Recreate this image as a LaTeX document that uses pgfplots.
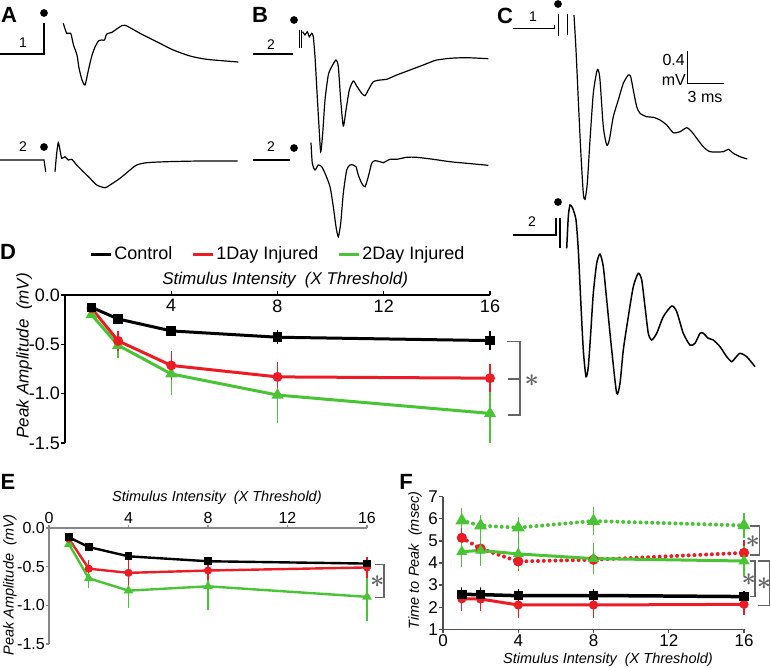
\documentclass[border=0pt]{standalone}
\usepackage{fontspec}
\setmainfont{Liberation Sans}
\setsansfont{Liberation Sans}
\usepackage{pgfplots}
\pgfplotsset{compat=1.18}
\definecolor{cred}{RGB}{237,28,36}
\definecolor{cgreen}{RGB}{72,196,52}
\definecolor{cgray}{RGB}{100,100,100}
\definecolor{axgray}{RGB}{135,135,135}
\definecolor{fgray}{RGB}{80,80,80}
\newcommand\fs[1]{\fontsize{#1}{#1}\selectfont}
\begin{document}
\begin{tikzpicture}[x=1pt,y=1pt]
\path[use as bounding box] (0pt,0pt) rectangle (771pt,-668pt);
% ---------------- traces and annotations (pixel coordinates)
\begin{axis}[at={(0pt,0pt)}, anchor=north west, scale only axis, width=771pt, height=668pt,
  xmin=0,xmax=771,ymin=0,ymax=668, y dir=reverse, hide axis, clip=false]
% A
\addplot[black, line width=1.2pt] coordinates {(0,54) (44,54) (44,23)};
\addplot[black, line width=1.2pt, smooth, tension=0.4] coordinates {(63.3,23.3) (66.7,33.3) (70.7,33.3) (73.5,45) (77,55) (79,68) (82,80) (85,85) (88,72) (91.5,57) (95,47) (98.5,41) (101.7,40) (104.5,40) (106.7,34) (111.7,32.5) (116.7,29) (122,25.5) (125,25.3) (128.3,26.7) (140,33.3) (156.7,41.7) (173.3,50) (190,56) (206.7,59.3) (238.3,62)};
\addplot[black, line width=1.2pt] coordinates {(0,160) (44,160) (45.7,171.7)};
\addplot[black, line width=1.2pt, smooth, tension=0.4] coordinates {(55,171.7) (56.7,153.3) (58.3,142.7) (60,150) (61.7,158.3) (65,156.7) (68.3,160) (71.7,159.3) (76.7,165) (83.3,171.7) (90,178.3) (96.7,185) (105,187.7) (110,185) (120,178.3) (130,170) (136.7,165) (146.7,162.7) (166.7,161.7) (200,161) (237.7,161)};
% B
\addplot[black, line width=1.2pt] coordinates {(253,54) (293,54)};
\addplot[black, line width=1.1pt] coordinates {(299.3,30) (299.3,48)};
\addplot[black, line width=1.1pt] coordinates {(301.7,30) (301.7,48)};
\addplot[black, line width=1.2pt, smooth, tension=0.4] coordinates {(302.7,31.7) (305,35) (307.3,31.7) (309.3,36.7) (311.7,33.3) (313.3,36.7) (315,56.7) (316.7,86.7) (319,126.7) (320.7,151.7) (322.7,133.3) (325,100) (328.3,75) (331.7,66.7) (336,60) (338.3,66.7) (340.7,100) (343.3,126) (346,110) (349.3,90) (353.3,81) (356.7,86) (361.7,93.3) (365,95.7) (368.3,90) (373.3,81.7) (380,80) (386.7,79.3) (396.7,75) (410,70) (423.3,65) (433.3,61) (436.7,60) (450,58.3) (466.7,57.7) (488.3,58.7)};
\addplot[black, line width=1.2pt] coordinates {(252.7,160) (290,160)};
\addplot[black, line width=1.2pt, smooth, tension=0.4] coordinates {(311,142.7) (312.3,163.3) (315,170) (318.3,165) (321.7,166.7) (325,173.3) (330,186.7) (333.3,206.7) (336,226.7) (338.3,236.7) (340.7,223.3) (343.3,193.3) (346.7,170) (350,165) (353.3,165) (356,166.7) (358.3,175) (361.7,183.3) (365,186.7) (368.3,176.7) (371.7,163.3) (375,160.7) (380,161.7) (383.3,162.7) (390,159.3) (396.7,159.3) (406.7,157.3) (416.7,157.3) (433.3,159.3) (450,161.7) (466.7,163.3) (488.3,165.3)};
% C
\addplot[black, line width=1.2pt] coordinates {(513.3,28.3) (554.3,28.3) (554.3,25)};
\addplot[black, line width=1.1pt] coordinates {(558.3,14) (558.3,36)};
\addplot[black, line width=1.1pt] coordinates {(567.7,14) (567.7,35)};
\addplot[black, line width=1.2pt, smooth, tension=0.4] coordinates {(574,15) (576,50) (578.3,100) (580.7,150) (583.3,193.3) (585,199.3) (587.3,183.3) (590,140) (593.3,93.3) (596.7,71.7) (598.3,70) (600,80) (603.3,126.7) (606.7,145) (609.3,140) (613.3,116.7) (618.3,100) (623.3,83.3) (628.3,75) (630.7,76.7) (633.3,90) (636.7,106.7) (640,113.3) (646.7,116.7) (653.3,117.3) (660,120) (666.7,125) (673.3,132.7) (680,131.7) (686.7,127.7) (691.7,131.7) (696.7,138.3) (703.3,146.7) (710,151.7) (723.3,151.7) (728.3,149.3) (733.3,153.3) (740,156.7) (747.3,159)};
\addplot[black, line width=2pt] coordinates {(513.3,235) (556,235) (556,218)};
\addplot[black, line width=1.1pt] coordinates {(560,218) (560,248)};
\addplot[black, line width=1.5pt, smooth, tension=0.4] coordinates {(566.7,248.3) (568.3,216.7) (570,205) (572.7,208.3) (576,220) (578.3,250) (580.7,300) (583.3,350) (586,376.7) (588.3,366.7) (590.7,333.3) (593.3,293.3) (596.7,263.3) (600,254) (603.3,266.7) (606.7,300) (611.7,350) (616.7,393.3) (620,383.3) (623.3,350) (628.3,316.7) (633.3,286.7) (638.3,273.3) (641.7,280) (645,306.7) (648.3,333.3) (651.7,340) (656.7,333.3) (663.3,316.7) (671.7,306) (676.7,311.7) (683.3,333.3) (690,345) (695,343.3) (700,333.3) (703.3,333.3) (708.3,338.3) (713.3,340) (720,346.7) (726.7,356.7) (731.7,361.7) (735,358.3) (740,353.3) (746.7,356.7) (755,366.7)};
% scale bar
\addplot[black, line width=1.2pt] coordinates {(687.3,50.7) (687.3,83.3) (724,83.3)};
% stimulus dots
\addplot[only marks, mark=*, mark size=3.6pt, black] coordinates {(44,13) (44,147) (294,20) (294,148) (558,4) (558,202)};
% labels
\node[font=\bfseries\fs{22}] at (axis cs:9,15) {A};
\node[font=\bfseries\fs{22}] at (axis cs:260,15) {B};
\node[font=\bfseries\fs{22}] at (axis cs:505,16) {C};
\node[font=\bfseries\fs{22}] at (axis cs:8,252) {D};
\node[font=\bfseries\fs{22}] at (axis cs:8,482) {E};
\node[font=\bfseries\fs{22}] at (axis cs:406,482) {F};
\node[font=\fs{14}] at (axis cs:23,43) {1};
\node[font=\fs{14}] at (axis cs:23,147) {2};
\node[font=\fs{14}] at (axis cs:271,45) {2};
\node[font=\fs{14}] at (axis cs:271,147) {2};
\node[font=\fs{14}] at (axis cs:533,17) {1};
\node[font=\fs{14}] at (axis cs:532,222) {2};
\node[font=\fs{16}, anchor=east, inner sep=0pt] at (axis cs:685,60) {0.4};
\node[font=\fs{16}, anchor=east, inner sep=0pt] at (axis cs:686,80) {mV};
\node[font=\fs{16}] at (axis cs:705,97) {3 ms};
% brackets
\draw[cgray, line width=1.2pt] (axis cs:506.7,341.7) -- (axis cs:520,341.7) -- (axis cs:520,415) -- (axis cs:507.7,415);
\draw[cgray, line width=1.2pt] (axis cs:508,379) -- (axis cs:520,379);
\node[cgray, font=\fs{28}\boldmath] at (axis cs:531.7,381) {$\ast$};
\draw[cgray, line width=1.2pt] (axis cs:375,564.3) -- (axis cs:384,564.3) -- (axis cs:384,597.7) -- (axis cs:375,597.7);
\node[cgray, font=\fs{28}\boldmath] at (axis cs:377.3,581.7) {$\ast$};
\draw[cgray, line width=1.2pt] (axis cs:750,526) -- (axis cs:759.3,526) -- (axis cs:759.3,555) -- (axis cs:750,555);
\node[cgray, font=\fs{28}\boldmath] at (axis cs:752.7,541.7) {$\ast$};
\draw[cgray, line width=1.2pt] (axis cs:750,561) -- (axis cs:755,561) -- (axis cs:755,596.7) -- (axis cs:750,596.7);
\node[cgray, font=\fs{28}\boldmath] at (axis cs:748.7,579.3) {$\ast$};
\draw[cgray, line width=1.2pt] (axis cs:758.3,561) -- (axis cs:769.3,561) -- (axis cs:769.3,605.7) -- (axis cs:758.3,605.7);
\node[cgray, font=\fs{28}\boldmath] at (axis cs:764,583.3) {$\ast$};
\end{axis}
% ---------------- D
\begin{axis}[at={(65pt,-443pt)}, anchor=south west, scale only axis, width=425pt, height=148pt,
  xmin=0,xmax=16,ymin=-1.5,ymax=0, clip=false,
  axis x line*=top, axis y line*=left,
  axis line style={-,black,line width=1.5pt},
  every tick/.style={black,line width=1.3pt}, tick align=outside, major tick length=4pt,
  xtick={4,8,12,16}, xticklabels={4,8,12,16},
  ytick={0,-0.5,-1,-1.5}, yticklabels={0.0,-0.5,-1.0,-1.5},
  xticklabel style={font=\fs{18}, anchor=north, yshift=-5pt},
  yticklabel style={font=\fs{18}, inner sep=1pt},
  xlabel={Stimulus Intensity\ \ (X Threshold)},
  xlabel style={font=\itshape\fs{17}, at={(axis description cs:0.518,1.101)}, anchor=center},
  ylabel={Peak Amplitude\ \ (mV)},
  ylabel style={font=\itshape\fs{17}, at={(axis description cs:-0.096,0.59)}, anchor=center},
  legend columns=3,
  legend style={draw=none, fill=none, font=\fs{18}, at={(axis description cs:0.501,1.277)}, anchor=center, inner sep=0pt, /tikz/every even column/.append style={column sep=17pt}},
  legend image code/.code={\draw[#1, line width=3pt] (0pt,0pt) -- (20pt,0pt);},
  error bars/error mark=none,
  every axis plot/.append style={line width=3pt}]
\addlegendimage{black}\addlegendentry{Control}
\addlegendimage{cred}\addlegendentry{1Day Injured}
\addlegendimage{cgreen}\addlegendentry{2Day Injured}
\addplot[forget plot, cgreen, mark=triangle*, mark size=4pt, error bars/.cd, y dir=both, y explicit, error bar style={line width=1.3pt}] coordinates {(1,-0.2) +- (0,0.03) (2,-0.51) +- (0,0.13) (4,-0.8) +- (0,0.21) (8,-1.014) +- (0,0.28) (16,-1.2) +- (0,0.3)};
\addplot[forget plot, cred, mark=*, mark size=3.4pt, error bars/.cd, y dir=both, y explicit, error bar style={line width=1.3pt}] coordinates {(1,-0.135) +- (0,0.03) (2,-0.465) +- (0,0.1) (4,-0.714) +- (0,0.15) (8,-0.83) +- (0,0.15) (16,-0.843) +- (0,0.14)};
\addplot[forget plot, black, mark=square*, mark size=3.3pt, error bars/.cd, y dir=both, y explicit, error bar style={line width=1.5pt}] coordinates {(1,-0.125) +- (0,0.02) (2,-0.243) +- (0,0.035) (4,-0.364) +- (0,0.045) (8,-0.428) +- (0,0.07) (16,-0.462) +- (0,0.1)};
\end{axis}
% ---------------- E
\begin{axis}[at={(49pt,-644pt)}, anchor=south west, scale only axis, width=318pt, height=116pt,
  xmin=0,xmax=16,ymin=-1.5,ymax=0, clip=false,
  axis x line*=top, axis y line*=left,
  axis line style={-,axgray,line width=1.3pt},
  every tick/.style={axgray,line width=1.2pt}, tick align=outside, major tick length=3pt,
  xtick={0,4,8,12,16}, xticklabels={0,4,8,12,16},
  ytick={0,-0.5,-1,-1.5}, yticklabels={0.0,-0.5,-1.0,-1.5},
  xticklabel style={font=\fs{16}, inner sep=1pt},
  yticklabel style={font=\fs{16}, inner sep=1pt},
  xlabel={Stimulus Intensity\ \ (X Threshold)},
  xlabel style={font=\itshape\fs{14.5}, at={(axis description cs:0.528,1.259)}, anchor=center},
  ylabel={Peak Amplitude\ \ (mV)},
  ylabel style={font=\itshape\fs{14.5}, at={(axis description cs:-0.123,0.51)}, anchor=center},
  error bars/error mark=none,
  every axis plot/.append style={line width=2.4pt}]
\addplot[cgreen, mark=triangle*, mark size=3.2pt, error bars/.cd, y dir=both, y explicit, error bar style={line width=1.1pt}] coordinates {(1,-0.207) +- (0,0.04) (2,-0.65) +- (0,0.12) (4,-0.81) +- (0,0.23) (8,-0.754) +- (0,0.3) (16,-0.89) +- (0,0.31)};
\addplot[cred, mark=*, mark size=2.8pt, error bars/.cd, y dir=both, y explicit, error bar style={line width=1.1pt}] coordinates {(1,-0.138) +- (0,0.03) (2,-0.526) +- (0,0.11) (4,-0.58) +- (0,0.17) (8,-0.55) +- (0,0.12) (16,-0.51) +- (0,0.14)};
\addplot[black, mark=square*, mark size=2.7pt, error bars/.cd, y dir=both, y explicit, error bar style={line width=1.1pt}] coordinates {(1,-0.12) +- (0,0.03) (2,-0.246) +- (0,0.04) (4,-0.366) +- (0,0.05) (8,-0.43) +- (0,0.05) (16,-0.46) +- (0,0.05)};
\end{axis}
% ---------------- F
\begin{axis}[at={(443pt,-629.3pt)}, anchor=south west, scale only axis, width=301pt, height=132.6pt,
  xmin=0,xmax=16,ymin=1,ymax=7, clip=false,
  axis x line*=bottom, axis y line*=left,
  axis line style={-,fgray,line width=1.5pt},
  every tick/.style={fgray,line width=1.3pt}, tick align=outside, major tick length=4pt,
  xtick={0,4,8,12,16}, xticklabels={0,4,8,12,16},
  ytick={1,2,3,4,5,6,7}, yticklabels={1,2,3,4,5,6,7},
  xticklabel style={font=\fs{17}, inner sep=1pt},
  yticklabel style={font=\fs{17}, inner sep=1pt},
  xlabel={Stimulus Intensity\ \ (X Threshold)},
  xlabel style={font=\itshape\fs{14.5}, at={(axis description cs:0.548,-0.232)}, anchor=center},
  ylabel={Time to Peak\ \ (msec)},
  ylabel style={font=\itshape\fs{14.5}, at={(axis description cs:-0.093,0.52)}, anchor=center},
  error bars/error mark=none,
  every axis plot/.append style={line width=3pt}]
\addplot[cgreen, dash pattern=on 0pt off 5.8pt, line cap=round, line width=4pt, mark=triangle*, mark size=3.5pt, mark options={solid}, error bars/.cd, y dir=both, y explicit, error bar style={solid, line cap=butt, line width=1.1pt}] coordinates {(1,5.92) +- (0,0.58) (2,5.69) +- (0,0.5) (4,5.6) +- (0,0.5) (8,5.9) +- (0,0.62) (16,5.7) +- (0,0.55)};
\addplot[cred, dash pattern=on 0pt off 5.8pt, line cap=round, line width=4pt, mark=*, mark size=3pt, mark options={solid}, error bars/.cd, y dir=both, y explicit, error bar style={solid, line cap=butt, line width=1.1pt}] coordinates {(1,5.14) +- (0,0.45) (2,4.65) +- (0,0.5) (4,4.07) +- (0,0.45) (8,4.15) +- (0,0.6) (16,4.46) +- (0,0.6)};
\addplot[cgreen, mark=triangle*, mark size=3.5pt, error bars/.cd, y dir=both, y explicit, error bar style={line width=1.1pt}] coordinates {(1,4.51) +- (0,0.7) (2,4.57) +- (0,0.7) (4,4.41) +- (0,0.7) (8,4.2) +- (0,0.7) (16,4.09) +- (0,0.7)};
\addplot[cred, mark=*, mark size=3pt, error bars/.cd, y dir=both, y explicit, error bar style={line width=1.1pt}] coordinates {(1,2.38) +- (0,0.55) (2,2.37) +- (0,0.55) (4,2.1) +- (0,0.6) (8,2.1) +- (0,0.6) (16,2.13) +- (0,0.5)};
\addplot[black, line width=3.5pt, mark=square*, mark size=3pt, error bars/.cd, y dir=both, y explicit, error bar style={line width=1.1pt}] coordinates {(1,2.58) +- (0,0.3) (2,2.57) +- (0,0.3) (4,2.52) +- (0,0.32) (8,2.53) +- (0,0.3) (16,2.48) +- (0,0.25)};
\end{axis}
\end{tikzpicture}
\end{document}
